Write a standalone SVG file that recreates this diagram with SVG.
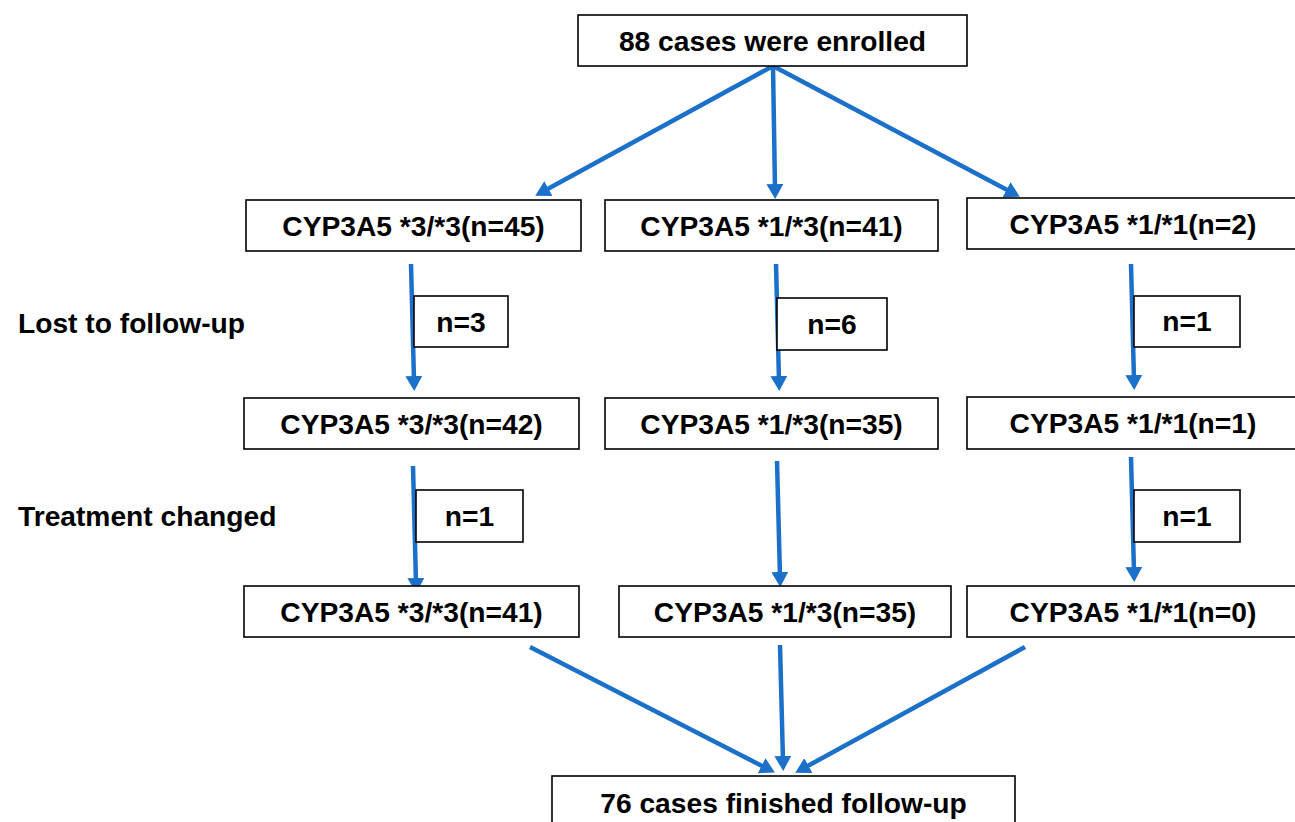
<svg xmlns="http://www.w3.org/2000/svg" width="1295" height="822" viewBox="0 0 1295 822">
<style>
.box{fill:#fff;stroke:#000;stroke-width:1.6}
.t{font-family:"Liberation Sans",Arial,sans-serif;font-weight:bold;font-size:28.2px;fill:#000}
.c{text-anchor:middle}
.arr{stroke:#1B70C9;stroke-width:4.5;fill:none;marker-end:url(#ah)}
</style>
<defs>
<marker id="ah" markerUnits="userSpaceOnUse" markerWidth="15" markerHeight="17" viewBox="0 0 15 17" refX="5" refY="8.5" orient="auto">
<path d="M0,0 L15,8.5 L0,17 z" fill="#1B70C9"/>
</marker>
</defs>
<rect width="1295" height="822" fill="#fff"/>
<g id="connectors">
<line class="arr" x1="773" y1="66" x2="544" y2="191"/>
<line class="arr" x1="773" y1="66" x2="775" y2="189"/>
<line class="arr" x1="773" y1="66" x2="1011" y2="192"/>
<line class="arr" x1="411" y1="264" x2="414" y2="381"/>
<line class="arr" x1="776" y1="264" x2="779" y2="381"/>
<line class="arr" x1="1131" y1="264" x2="1134" y2="380"/>
<line class="arr" x1="413" y1="466" x2="416" y2="583"/>
<line class="arr" x1="777" y1="461" x2="780" y2="577"/>
<line class="arr" x1="1131" y1="457" x2="1134" y2="572"/>
<line class="arr" x1="530" y1="647" x2="766" y2="768"/>
<line class="arr" x1="780" y1="645" x2="783" y2="761"/>
<line class="arr" x1="1025" y1="647" x2="804" y2="768"/>
</g>
<g id="n-enrolled"><rect class="box" x="578" y="15" width="389" height="51"/><text class="t c" x="772.5" y="51">88 cases were enrolled</text></g>
<g id="n-r1-33"><rect class="box" x="246" y="200" width="335" height="51"/><text class="t c" x="413.5" y="235.5">CYP3A5 *3/*3(n=45)</text></g>
<g id="n-r1-13"><rect class="box" x="605" y="200" width="333" height="51"/><text class="t c" x="771.5" y="235.5">CYP3A5 *1/*3(n=41)</text></g>
<g id="n-r1-11"><rect class="box" x="967" y="198" width="333" height="51"/><text class="t c" x="1133" y="233.5">CYP3A5 *1/*1(n=2)</text></g>
<g id="n-lost-label"><text class="t" x="18" y="333">Lost to follow-up</text></g>
<g id="n-lost-33"><rect class="box" x="414" y="296" width="94" height="51"/><text class="t c" x="461" y="332">n=3</text></g>
<g id="n-lost-13"><rect class="box" x="777" y="298" width="110" height="52"/><text class="t c" x="832" y="334">n=6</text></g>
<g id="n-lost-11"><rect class="box" x="1134" y="296" width="106" height="51"/><text class="t c" x="1187" y="331">n=1</text></g>
<g id="n-r2-33"><rect class="box" x="244" y="398" width="335" height="51"/><text class="t c" x="411.5" y="433.5">CYP3A5 *3/*3(n=42)</text></g>
<g id="n-r2-13"><rect class="box" x="605" y="398" width="333" height="51"/><text class="t c" x="771.5" y="433.5">CYP3A5 *1/*3(n=35)</text></g>
<g id="n-r2-11"><rect class="box" x="967" y="397" width="333" height="52"/><text class="t c" x="1133" y="433">CYP3A5 *1/*1(n=1)</text></g>
<g id="n-treat-label"><text class="t" x="18" y="526">Treatment changed</text></g>
<g id="n-treat-33"><rect class="box" x="416" y="490" width="107" height="52"/><text class="t c" x="469.5" y="526">n=1</text></g>
<g id="n-treat-11"><rect class="box" x="1134" y="490" width="106" height="52"/><text class="t c" x="1187" y="526">n=1</text></g>
<g id="n-r3-33"><rect class="box" x="244" y="586" width="335" height="51"/><text class="t c" x="411.5" y="621.5">CYP3A5 *3/*3(n=41)</text></g>
<g id="n-r3-13"><rect class="box" x="619" y="586" width="332" height="51"/><text class="t c" x="785" y="621.5">CYP3A5 *1/*3(n=35)</text></g>
<g id="n-r3-11"><rect class="box" x="967" y="586" width="333" height="51"/><text class="t c" x="1133" y="621.5">CYP3A5 *1/*1(n=0)</text></g>
<g id="n-finished"><rect class="box" x="552" y="776" width="463" height="60"/><text class="t c" x="783.5" y="813">76 cases finished follow-up</text></g>
</svg>
